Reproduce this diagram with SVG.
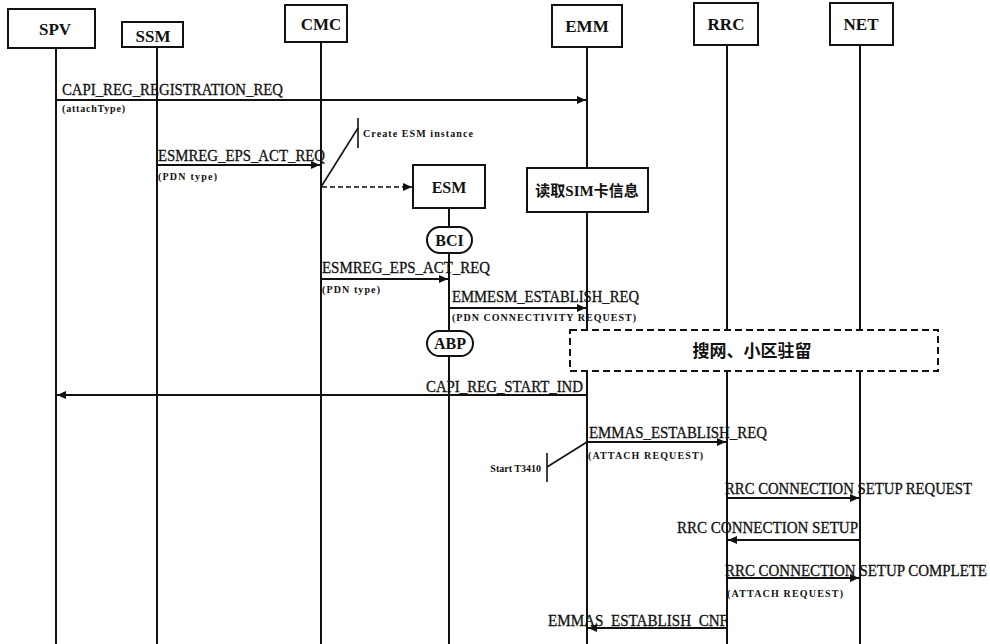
<svg xmlns="http://www.w3.org/2000/svg" width="990" height="644" viewBox="0 0 990 644">
<style>
.box{fill:#fff;stroke:#111;stroke-width:2}
.life{stroke:#111;stroke-width:2;fill:none}
.msg{stroke:#111;stroke-width:2;fill:none;marker-end:url(#ah)}
.dash{stroke:#111;stroke-width:1.6;fill:none;stroke-dasharray:5 3;marker-end:url(#ah)}
.thin{stroke:#111;stroke-width:1.6;fill:none}
.hd{font-family:"Liberation Serif","Times New Roman",Times,serif;font-size:17px;font-weight:bold;fill:#111;text-anchor:middle}
.lb{font-family:"Liberation Serif","Times New Roman",Times,serif;font-size:16px;fill:#111;stroke:#111;stroke-width:0.3}
.sm{font-family:"Liberation Serif","Times New Roman",Times,serif;font-size:10px;font-weight:bold;fill:#111}
.cj{font-family:"Liberation Serif","Noto Sans CJK SC",sans-serif;font-weight:bold;fill:#111;text-anchor:middle}
</style>
<defs>
<marker id="ah" markerUnits="userSpaceOnUse" markerWidth="10" markerHeight="8" refX="9" refY="4" orient="auto">
<path d="M0,0 L9,4 L0,8 z" fill="#111"/>
</marker>
</defs>
<rect width="990" height="644" fill="#fff"/>

<g id="lifelines">
<line class="life" x1="56" y1="48" x2="56" y2="644"/>
<line class="life" x1="157" y1="47" x2="157" y2="644"/>
<line class="life" x1="321" y1="42" x2="321" y2="644"/>
<line class="life" x1="587" y1="47" x2="587" y2="644"/>
<line class="life" x1="727" y1="45" x2="727" y2="644"/>
<line class="life" x1="860" y1="45" x2="860" y2="644"/>
<line class="life" x1="449" y1="208" x2="449" y2="644"/>
</g>

<g id="node-spv"><rect class="box" x="8" y="9" width="87" height="39"/><text class="hd" x="55" y="35">SPV</text></g>
<g id="node-ssm"><rect class="box" x="122" y="22" width="61" height="25"/><text class="hd" x="153" y="42">SSM</text></g>
<g id="node-cmc"><rect class="box" x="285" y="5" width="62" height="37"/><text class="hd" x="321" y="30">CMC</text></g>
<g id="node-emm"><rect class="box" x="552" y="5" width="70" height="42"/><text class="hd" x="587" y="32">EMM</text></g>
<g id="node-rrc"><rect class="box" x="694" y="3" width="64" height="42"/><text class="hd" x="726" y="30">RRC</text></g>
<g id="node-net"><rect class="box" x="830" y="3" width="63" height="42"/><text class="hd" x="861" y="30">NET</text></g>
<g id="node-esm"><rect class="box" x="413" y="165" width="72" height="43"/><text class="hd" x="449" y="193" style="font-size:16px">ESM</text></g>
<g id="node-bci"><rect class="box" x="427" y="227" width="45" height="26" rx="13"/><text class="hd" x="449.5" y="246" style="font-size:16px">BCI</text></g>
<g id="node-abp"><rect class="box" x="427" y="331" width="46" height="25" rx="12.5"/><text class="hd" x="450" y="349" style="font-size:16px">ABP</text></g>
<g id="node-sim"><rect class="box" x="527" y="168" width="121" height="44"/><text class="cj" x="587" y="196" style="font-size:15px">读取SIM卡信息</text></g>
<g id="node-search"><rect x="570" y="330" width="368" height="41" fill="#fff" stroke="#111" stroke-width="2" stroke-dasharray="7 4"/><text class="cj" x="752" y="357" style="font-size:17px">搜网、小区驻留</text></g>

<g id="annotations">
<line class="thin" x1="358" y1="118" x2="358" y2="148"/>
<line class="thin" x1="321" y1="187" x2="358" y2="128"/>
<text class="sm" x="363" y="137" textLength="110">Create ESM instance</text>
<line class="thin" x1="547" y1="453" x2="547" y2="482"/>
<line class="thin" x1="547" y1="467" x2="587" y2="442"/>
<text class="sm" x="541" y="472" text-anchor="end">Start T3410</text>
</g>

<g id="connectors">
<line class="msg" x1="56" y1="100" x2="586" y2="100"/>
<text class="lb" x="62" y="95" textLength="221" lengthAdjust="spacingAndGlyphs">CAPI_REG_REGISTRATION_REQ</text>
<text class="sm" x="62" y="112" textLength="63">(attachType)</text>

<line class="msg" x1="157" y1="165" x2="320" y2="165"/>
<text class="lb" x="158" y="161" textLength="167" lengthAdjust="spacingAndGlyphs">ESMREG_EPS_ACT_REQ</text>
<text class="sm" x="158" y="180" textLength="59">(PDN type)</text>

<line class="dash" x1="322" y1="187" x2="412" y2="187"/>

<line class="msg" x1="321" y1="279" x2="448" y2="279"/>
<text class="lb" x="322" y="273" textLength="168" lengthAdjust="spacingAndGlyphs">ESMREG_EPS_ACT_REQ</text>
<text class="sm" x="322" y="293" textLength="58">(PDN type)</text>

<line class="msg" x1="449" y1="308" x2="586" y2="308"/>
<text class="lb" x="452" y="302" textLength="187" lengthAdjust="spacingAndGlyphs">EMMESM_ESTABLISH_REQ</text>
<text class="sm" x="452" y="321" textLength="184">(PDN CONNECTIVITY REQUEST)</text>

<line class="msg" x1="587" y1="395" x2="57" y2="395"/>
<text class="lb" x="426" y="392" textLength="157" lengthAdjust="spacingAndGlyphs">CAPI_REG_START_IND</text>

<line class="msg" x1="587" y1="442" x2="726" y2="442"/>
<text class="lb" x="589" y="438" textLength="178" lengthAdjust="spacingAndGlyphs">EMMAS_ESTABLISH_REQ</text>
<text class="sm" x="588" y="459" textLength="115">(ATTACH REQUEST)</text>

<line class="msg" x1="727" y1="498" x2="859" y2="498"/>
<text class="lb" x="725" y="494" textLength="247" lengthAdjust="spacingAndGlyphs">RRC CONNECTION SETUP REQUEST</text>

<line class="msg" x1="860" y1="540" x2="728" y2="540"/>
<text class="lb" x="677" y="533" textLength="181" lengthAdjust="spacingAndGlyphs">RRC CONNECTION SETUP</text>

<line class="msg" x1="727" y1="578" x2="859" y2="578"/>
<text class="lb" x="725" y="576" textLength="262" lengthAdjust="spacingAndGlyphs">RRC CONNECTION SETUP COMPLETE</text>
<text class="sm" x="727" y="597" textLength="116">(ATTACH  REQUEST)</text>

<line class="msg" x1="727" y1="628" x2="588" y2="628"/>
<text class="lb" x="548" y="626" textLength="180" lengthAdjust="spacingAndGlyphs">EMMAS_ESTABLISH_CNF</text>
</g>
</svg>
